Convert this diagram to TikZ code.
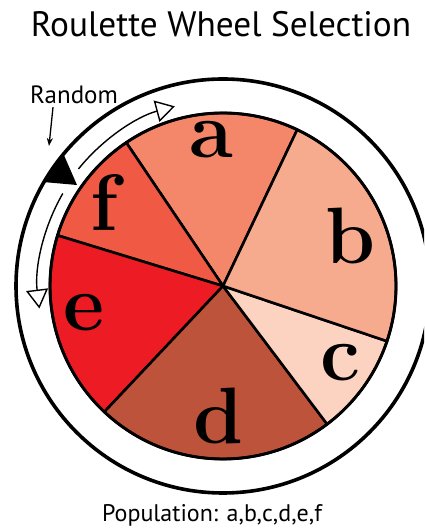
\documentclass[tikz,border=0pt]{standalone}
\usepackage{fontspec}
\newfontfamily\rotulo{PT Sans}
\usetikzlibrary{arrows.meta}

\definecolor{colA}{HTML}{F4876A}
\definecolor{colB}{HTML}{F7AB8E}
\definecolor{colC}{HTML}{FCD3C1}
\definecolor{colD}{HTML}{BD533A}
\definecolor{colE}{HTML}{ED1C24}
\definecolor{colF}{HTML}{F05A45}

\begin{document}
\begin{tikzpicture}[x=1pt,y=1pt]

		% Estilos
		\tikzset{
			sector/.style={
				draw=black,
				line width=2.6pt,
				line join=round
			},
			letra/.style={
				font=\fontsize{80}{80}\selectfont\bfseries,
				inner sep=0pt
			},
			giro/.style={
				line width=1.4pt,
				-{Triangle[open,length=19pt,width=22pt,line width=1.4pt]}
			},
			texto/.style={
				font=\rotulo,
				inner sep=0pt
			}
		}

		\useasboundingbox (0,0) rectangle (424,529);
		\clip (0,0) rectangle (424,529);

		\coordinate (C) at (223,243);

		% Sectores
		\foreach \ini/\fin/\col in {64.6/124/colA, 124/163/colF, 163/226.7/colE,
			226.7/307/colD, 307/341.4/colC, 341.4/424.6/colB}
			\filldraw[sector,fill=\col] (C) -- ++(\ini:173)
				arc[start angle=\ini,end angle=\fin,radius=173] -- cycle;

		% Circulos
		\draw[line width=2.9pt] (C) circle[radius=173];
		\draw[line width=3.6pt] (C) circle[radius=207];

		% Letras
		\node[letra] (a) at (211,389) {a};
		\node[letra] (b) at (350,293) {b};
		\node[letra] (c) at (340,166) {c};
		\node[letra] (d) at (218,113) {d};
		\node[letra] (e) at (84,216) {e};
		\node[letra] (f) at (104,326) {f};

		% Flechas de giro
		\draw[giro] (C) ++(141:186) arc[start angle=141,end angle=105,radius=186];
		\draw[giro] (C) ++(150:185) arc[start angle=150,end angle=187,radius=185];

		% Puntero
		\fill[black] (63,376) -- (43,347) -- (77,344) -- cycle;

		% Textos
		\node[texto,font=\rotulo\fontsize{35.3}{35.3}\selectfont] (titulo) at (221,505) {Roulette Wheel Selection};
		\node[texto,font=\rotulo\fontsize{25}{25}\selectfont] (rnd) at (74,434) {Random};
		\node[texto,font=\rotulo\fontsize{24}{24}\selectfont] (pob) at (212,14) {Population: a,b,c,d,e,f};

		\coordinate (punta) at (49,383);
		\draw[line width=1.3pt,-{Stealth[length=8pt,width=6pt]}] ([xshift=-21pt,yshift=-3pt]rnd.south) -- (punta);

\end{tikzpicture}
\end{document}
